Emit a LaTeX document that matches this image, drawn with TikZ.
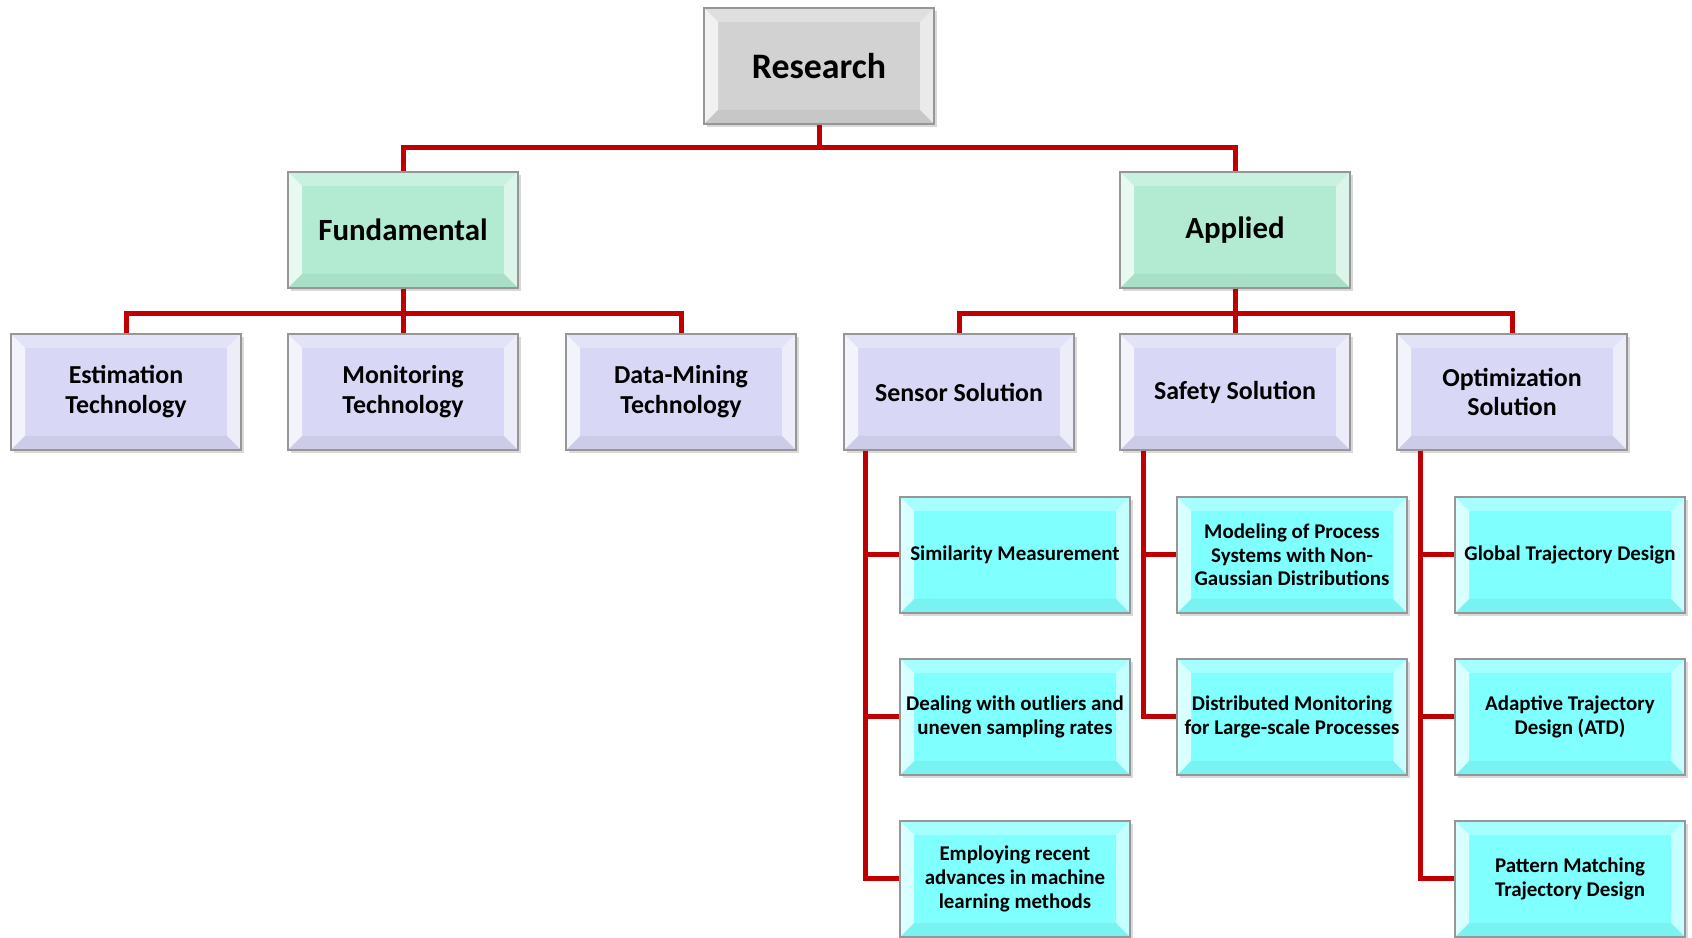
\documentclass[tikz,border=0pt]{standalone}
\usepackage{fontspec}
\setmainfont{Carlito}
\usetikzlibrary{calc,shadows}

\definecolor{linkred}{RGB}{192,0,0}
\definecolor{boxedge}{RGB}{150,150,150}
\definecolor{rootgray}{RGB}{210,210,210}
\definecolor{mint}{RGB}{178,235,210}
\definecolor{lavender}{RGB}{216,216,246}
\definecolor{aqua}{RGB}{128,255,255}

\tikzset{
  bevel/.style={draw=boxedge, line width=1.2bp, align=center, inner sep=2bp,
    minimum width=230bp, minimum height=116bp, font=\bfseries,
    drop shadow={shadow xshift=3bp, shadow yshift=-3bp, opacity=.3},
    path picture={
      \path (path picture bounding box.south west) coordinate (bsw)
            (path picture bounding box.north east) coordinate (bne);
      \fill[white,opacity=.7] (bsw) -- (bsw|-bne) -- ($(bsw|-bne)+(14bp,-14bp)$) -- ($(bsw)+(14bp,14bp)$) -- cycle;
      \fill[white,opacity=.3] (bsw|-bne) -- (bne) -- ($(bne)+(-14bp,-14bp)$) -- ($(bsw|-bne)+(14bp,-14bp)$) -- cycle;
      \fill[white,opacity=.55] (bne) -- (bne|-bsw) -- ($(bne|-bsw)+(-14bp,14bp)$) -- ($(bne)+(-14bp,-14bp)$) -- cycle;
      \fill[black,opacity=.05] (bne|-bsw) -- (bsw) -- ($(bsw)+(14bp,14bp)$) -- ($(bne|-bsw)+(-14bp,14bp)$) -- cycle;
    }},
  rootbox/.style={bevel, fill=rootgray, font=\bfseries\fontsize{36}{40}\selectfont},
  kindbox/.style={bevel, fill=mint, font=\bfseries\fontsize{31}{36}\selectfont},
  areabox/.style={bevel, fill=lavender, font=\bfseries\fontsize{26}{30}\selectfont},
  topicbox/.style={bevel, fill=aqua, font=\bfseries\fontsize{21}{23.7}\selectfont},
  link/.style={draw=linkred, line width=5bp},
}

\begin{document}
\begin{tikzpicture}[line join=miter]
\useasboundingbox (0bp,0bp) rectangle (1692bp,938bp);
%%
\node (research) at (819bp,872bp) [rootbox] {Research};
  \node (fundamental) at (403bp,708bp) [kindbox] {Fundamental};
  \node (applied) at (1235bp,708bp) [kindbox] {Applied};
  \node (estimation) at (126bp,546bp) [areabox] {Estimation\\Technology};
  \node (monitoring) at (403bp,546bp) [areabox] {Monitoring\\Technology};
  \node (datamining) at (681bp,546bp) [areabox] {Data-Mining\\Technology};
  \node (sensor) at (959bp,546bp) [areabox] {Sensor Solution};
  \node (safety) at (1235bp,546bp) [areabox] {Safety Solution};
  \node (optimization) at (1512bp,546bp) [areabox] {Optimization\\Solution};
  \node (similarity) at (1015bp,383bp) [topicbox] {Similarity Measurement};
  \node (outliers) at (1015bp,221bp) [topicbox] {Dealing with outliers and\\uneven sampling rates};
  \node (learning) at (1015bp,59bp) [topicbox] {Employing recent\\advances in machine\\learning methods};
  \node (nongaussian) at (1292bp,383bp) [topicbox] {Modeling of Process\\Systems with Non-\\Gaussian Distributions};
  \node (distributed) at (1292bp,221bp) [topicbox] {Distributed Monitoring\\for Large-scale Processes};
  \node (global) at (1570bp,383bp) [topicbox] {Global Trajectory Design};
  \node (adaptive) at (1570bp,221bp) [topicbox] {Adaptive Trajectory\\Design (ATD)};
  \node (pattern) at (1570bp,59bp) [topicbox] {Pattern Matching\\Trajectory Design};
  \draw [link] (research.south) -- ++(0bp,-23bp) -| (fundamental.north);
  \draw [link] (research.south) -- ++(0bp,-23bp) -| (applied.north);
  \draw [link] (fundamental.south) -- ++(0bp,-25bp) -| (estimation.north);
  \draw [link] (fundamental.south) -- (monitoring.north);
  \draw [link] (fundamental.south) -- ++(0bp,-25bp) -| (datamining.north);
  \draw [link] (applied.south) -- ++(0bp,-25bp) -| (sensor.north);
  \draw [link] (applied.south) -- (safety.north);
  \draw [link] (applied.south) -- ++(0bp,-25bp) -| (optimization.north);
  \draw [link] ([xshift=22bp]sensor.south west) |- (similarity.west);
  \draw [link] ([xshift=22bp]sensor.south west) |- (outliers.west);
  \draw [link] ([xshift=22bp]sensor.south west) |- (learning.west);
  \draw [link] ([xshift=24bp]safety.south west) |- (nongaussian.west);
  \draw [link] ([xshift=24bp]safety.south west) |- (distributed.west);
  \draw [link] ([xshift=24bp]optimization.south west) |- (global.west);
  \draw [link] ([xshift=24bp]optimization.south west) |- (adaptive.west);
  \draw [link] ([xshift=24bp]optimization.south west) |- (pattern.west);
%
\end{tikzpicture}
\end{document}
